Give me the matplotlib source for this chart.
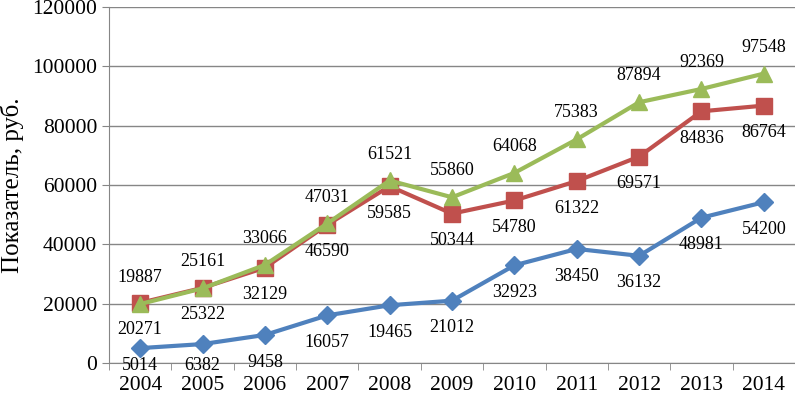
import matplotlib.pyplot as plt
import numpy as np

years = ['2004', '2005', '2006', '2007', '2008', '2009', '2010', '2011', '2012', '2013', '2014']
blue_vals = [5014, 6382, 9458, 16057, 19465, 21012, 32923, 38450, 36132, 48981, 54200]
red_vals = [20271, 25322, 32129, 46590, 59585, 50344, 54780, 61322, 69571, 84836, 86764]
green_vals = [19887, 25161, 33066, 47031, 61521, 55860, 64068, 75383, 87894, 92369, 97548]

plt.rcParams['font.family'] = ['Liberation Serif', 'DejaVu Serif']

fig = plt.figure(figsize=(7.95, 3.96), dpi=100)
ax = fig.add_axes([109 / 795, 1 - 363 / 396, 686 / 795, 356 / 396])

x = np.arange(len(years))
ax.plot(x, blue_vals, color='#4F81BD', lw=3, marker='D', ms=9.5, zorder=3)
ax.plot(x, red_vals, color='#C0504D', lw=3, marker='s', ms=11, zorder=4)
ax.plot(x, green_vals, color='#9BBB59', lw=3, marker='^', ms=12, zorder=5)

ymax = 120000
lab = dict(ha='center', va='center', fontsize=13, textcoords='offset points')
for i in x:
    # keep low blue labels just above the year labels
    room = (blue_vals[i] / ymax * 356 + 2) * 0.72
    ax.annotate(str(blue_vals[i]), (i, blue_vals[i]), xytext=(0, -min(19.5, room)), **lab)
    ax.annotate(str(red_vals[i]), (i, red_vals[i]), xytext=(0, -19.5), **lab)
    ax.annotate(str(green_vals[i]), (i, green_vals[i]), xytext=(0, 19), **lab)

ax.set_xlim(-0.5, len(years) - 0.5)
ax.set_ylim(0, ymax)
ax.set_yticks(range(0, ymax + 1, 20000))
ax.yaxis.grid(True, color='#868686', lw=1)
ax.set_axisbelow(True)
ax.set_xticks(x)
ax.set_xticklabels(years, fontsize=15.5)
ax.set_xticks(np.arange(-0.5, len(years), 1), minor=True)
ax.tick_params(axis='x', which='major', length=0, pad=9)
ax.tick_params(axis='x', which='minor', length=5, color='#868686')
ax.tick_params(axis='y', labelsize=15.5, length=5, color='#868686')
for s in ['top', 'right']:
    ax.spines[s].set_visible(False)
ax.spines['left'].set_color('#868686')
ax.spines['bottom'].set_color('#868686')
ax.set_ylabel('Показатель, руб.', fontsize=18)
ax.yaxis.set_label_coords(-0.124, 0.5)

fig.savefig('out.png', dpi=100)
